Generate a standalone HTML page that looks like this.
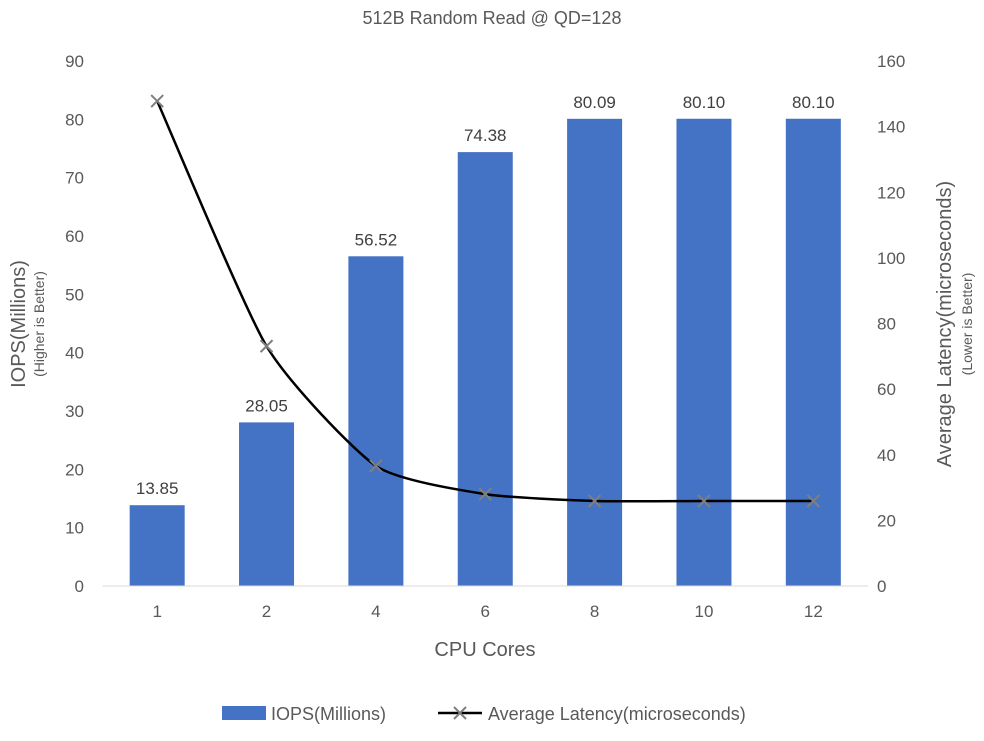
<!DOCTYPE html>
<html><head><meta charset="utf-8"><style>
body{margin:0;background:#fff;font-family:"Liberation Sans",sans-serif}
svg text{font-family:"Liberation Sans",sans-serif;fill:#595959}
</style></head><body>
<svg id="c" width="984" height="736" xmlns="http://www.w3.org/2000/svg">
<text x="492" y="24" font-size="18" text-anchor="middle">512B Random Read @ QD=128</text>
<g id="g"></g>
<text transform="translate(25,324) rotate(-90)" font-size="20" text-anchor="middle">IOPS(Millions)</text>
<text transform="translate(44,324) rotate(-90)" font-size="14" text-anchor="middle">(Higher is Better)</text>
<text transform="translate(951,324) rotate(-90)" font-size="20" text-anchor="middle">Average Latency(microseconds)</text>
<text transform="translate(972,324) rotate(-90)" font-size="14" text-anchor="middle">(Lower is Better)</text>
<text x="485" y="656" font-size="20" text-anchor="middle">CPU Cores</text>
<g>
<rect x="222" y="706" width="44" height="14" fill="#4472c4"/>
<text x="271" y="720" font-size="18">IOPS(Millions)</text>
<line x1="438" y1="713" x2="482" y2="713" stroke="#000" stroke-width="2.5"/>
<path d="M454,707 L466,719 M466,707 L454,719" stroke="#7f7f7f" stroke-width="2"/>
<text x="488" y="720" font-size="18">Average Latency(microseconds)</text>
</g>
</svg>
<script>
const categories=["1","2","4","6","8","10","12"];
const iops=[13.85,28.05,56.52,74.38,80.09,80.10,80.10];
const latency=[147.8,73.1,36.6,28.0,25.9,25.9,25.9];
const leftTicks=[0,10,20,30,40,50,60,70,80,90];
const rightTicks=[0,20,40,60,80,100,120,140,160];
const NS="http://www.w3.org/2000/svg";
const g=document.getElementById('g');
const L=102.5,R=868,T=61,B=586;
const step=(R-L)/categories.length;
const xc=i=>L+step*(i+0.5);
const yl=v=>B-(v/90)*(B-T);
const yr=v=>B-(v/160)*(B-T);
function mk(tag,attrs){const e=document.createElementNS(NS,tag);for(const k in attrs)e.setAttribute(k,attrs[k]);g.appendChild(e);return e;}
leftTicks.forEach(v=>{const t=mk('text',{x:84,y:yl(v)+6,'font-size':17,'text-anchor':'end'});t.textContent=v;

});
rightTicks.forEach(v=>{const t=mk('text',{x:877,y:yr(v)+6,'font-size':17});t.textContent=v;

});
categories.forEach((c,i)=>{
const h=B-yl(iops[i]);
const r=mk('rect',{x:xc(i)-27.5,y:yl(iops[i]),width:55,height:h,fill:'#4472c4'});


const lb=mk('text',{x:xc(i),y:yl(iops[i])-11,'font-size':17,'text-anchor':'middle',style:'fill:#404040'});lb.textContent=iops[i].toFixed(2);


const t=mk('text',{x:xc(i),y:B+31,'font-size':17,'text-anchor':'middle'});t.textContent=c;


});
const ax=mk('line',{x1:L,x2:R,y1:B,y2:B,stroke:'#d9d9d9','stroke-width':1});


const pts=latency.map((v,i)=>[xc(i),yr(v)]);
let d='M'+pts[0][0]+','+pts[0][1];
const k=10;
for(let i=0;i<pts.length-1;i++){
const p0=pts[Math.max(0,i-1)],p1=pts[i],p2=pts[i+1],p3=pts[Math.min(pts.length-1,i+2)];
const c1=[p1[0]+(p2[0]-p0[0])/k,p1[1]+(p2[1]-p0[1])/k],c2=[p2[0]-(p3[0]-p1[0])/k,p2[1]-(p3[1]-p1[1])/k];
d+=` C${c1[0]},${c1[1]} ${c2[0]},${c2[1]} ${p2[0]},${p2[1]}`;}
const line=mk('path',{d:d,fill:'none',stroke:'#000','stroke-width':2.5});


pts.forEach(p=>{const m=mk('path',{d:`M${p[0]-6},${p[1]-6} L${p[0]+6},${p[1]+6} M${p[0]+6},${p[1]-6} L${p[0]-6},${p[1]+6}`,stroke:'#7f7f7f','stroke-width':2});

});
</script>
</body></html>
